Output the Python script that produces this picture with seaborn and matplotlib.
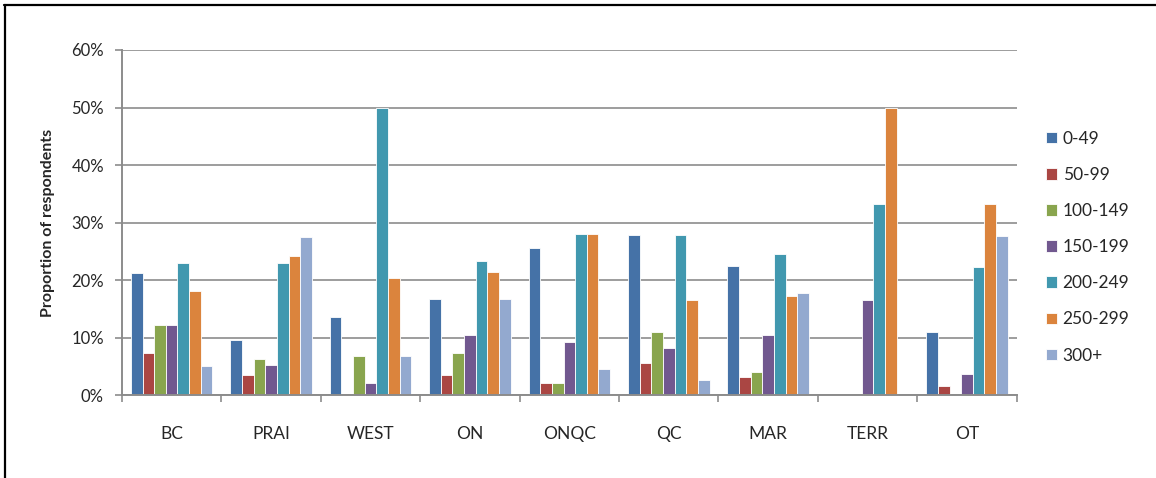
import matplotlib
matplotlib.use("Agg")
import matplotlib.pyplot as plt
from matplotlib.ticker import PercentFormatter, FixedLocator
from matplotlib.lines import Line2D
import seaborn as sns
import pandas as pd

regions = ["BC", "PRAI", "WEST", "ON", "ONQC", "QC", "MAR", "TERR", "OT"]
size_bands = ["0-49", "50-99", "100-149", "150-199", "200-249", "250-299", "300+"]

# Share of respondents per size band, one list per region (fractions)
bc   = [0.212, 0.074, 0.123, 0.123, 0.230, 0.181, 0.051]
prai = [0.097, 0.035, 0.064, 0.053, 0.230, 0.243, 0.275]
west = [0.137, 0.000, 0.069, 0.022, 0.500, 0.204, 0.069]
on   = [0.168, 0.035, 0.074, 0.105, 0.233, 0.215, 0.168]
onqc = [0.257, 0.022, 0.022, 0.093, 0.280, 0.280, 0.046]
qc   = [0.278, 0.056, 0.111, 0.082, 0.278, 0.166, 0.027]
mar  = [0.225, 0.032, 0.041, 0.105, 0.246, 0.173, 0.178]
terr = [0.000, 0.000, 0.000, 0.166, 0.332, 0.500, 0.000]
ot   = [0.111, 0.017, 0.000, 0.038, 0.223, 0.332, 0.277]

values = [bc, prai, west, on, onqc, qc, mar, terr, ot]

palette = ["#4572A7", "#AA4643", "#89A54E", "#71588F",
           "#4198AF", "#DB843D", "#93A9CF"]

rows = []
for reg, vals in zip(regions, values):
    for band, v in zip(size_bands, vals):
        rows.append({"region": reg, "band": band, "share": v})
df = pd.DataFrame(rows)

sns.set_style("white")
plt.rcParams["font.family"] = ["Lato", "DejaVu Sans"]

fig = plt.figure(figsize=(11.56, 4.78), dpi=100)
ax = fig.add_axes([0.1055, 0.1726, 0.774, 0.7228])

sns.barplot(data=df, x="region", y="share", hue="band",
            order=regions, hue_order=size_bands, palette=palette,
            width=0.82, edgecolor="white", linewidth=0.6,
            saturation=1, errorbar=None, ax=ax, zorder=3)

# Empty categories draw nothing at all
for container in ax.containers:
    for bar in container:
        if bar.get_height() == 0:
            bar.set_visible(False)

grid_col = "#8c8c8c"
ax.set_ylim(0, 0.6)
ax.set_xlim(-0.5, len(regions) - 0.5)
ax.yaxis.set_major_locator(FixedLocator([0, 0.1, 0.2, 0.3, 0.4, 0.5, 0.6]))
ax.yaxis.set_major_formatter(PercentFormatter(1.0, decimals=0))
ax.yaxis.grid(True, color=grid_col, linewidth=1.2, zorder=0)
ax.set_axisbelow(True)

for side in ["top", "right"]:
    ax.spines[side].set_visible(False)
for side in ["left", "bottom"]:
    ax.spines[side].set_color(grid_col)
    ax.spines[side].set_linewidth(1.4)
    ax.spines[side].set_zorder(5)

ax.tick_params(axis="y", direction="out", length=5, width=1.2, color=grid_col,
               labelsize=12, pad=8, left=True)
ax.tick_params(axis="x", which="major", length=0, labelsize=12.5, pad=22)
ax.set_xticks([i - 0.5 for i in range(len(regions) + 1)], minor=True)
ax.tick_params(axis="x", which="minor", direction="out", length=5, width=1.2,
               color=grid_col, bottom=True)

ax.set_xlabel("")
ax.set_ylabel("Proportion of respondents", fontsize=11.5, fontweight="bold",
              labelpad=12)

handles, labels = ax.get_legend_handles_labels()
ax.get_legend().remove()
fig.legend(handles, labels, loc="upper left", bbox_to_anchor=(0.899, 0.741),
           frameon=False, fontsize=12.5, handlelength=0.65, handleheight=0.65,
           handletextpad=0.3, labelspacing=1.16, borderaxespad=0)

# Frame lines along the top and left of the figure
fig.add_artist(Line2D([0.0035, 1.0], [0.9895, 0.9895], color="black",
                      linewidth=1.6, transform=fig.transFigure))
fig.add_artist(Line2D([0.0043, 0.0043], [0.0, 0.99], color="black",
                      linewidth=1.6, transform=fig.transFigure))

fig.savefig("out.png", dpi=100, facecolor="white")
